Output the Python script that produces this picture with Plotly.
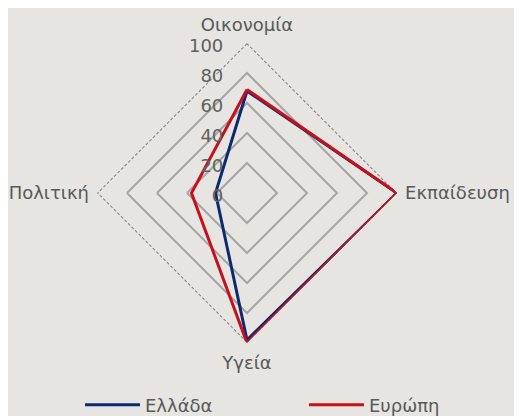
import plotly.graph_objects as go

# axes, clockwise from the top
categories = ['Οικονομία', 'Εκπαίδευση', 'Υγεία', 'Πολιτική']
greece = [68, 100, 98, 21]
europe = [69, 100, 100, 37]
outer = [100, 100, 100, 100]
tick_vals = [0, 20, 40, 60, 80, 100]

def closed(vals):
    return vals + vals[:1]

theta = closed(categories)

fig = go.Figure()

# dashed outer frame
fig.add_trace(go.Scatterpolar(
    r=closed(outer), theta=theta, mode='lines',
    line=dict(color='#7f7f7f', width=2, dash='3px,2px'),
    showlegend=False, hoverinfo='skip'
))

fig.add_trace(go.Scatterpolar(
    r=closed(greece), theta=theta, mode='lines', name='Ελλάδα',
    line=dict(color='#0d2a6e', width=3)
))

fig.add_trace(go.Scatterpolar(
    r=closed(europe), theta=theta, mode='lines', name='Ευρώπη',
    line=dict(color='#c8101a', width=3)
))

# the page body has an 8px margin, so positions are shifted by 8px
W, H = 522, 416
fig.update_layout(
    width=W, height=H,
    paper_bgcolor='#e6e5e1',
    plot_bgcolor='#e6e5e1',
    margin=dict(l=0, r=0, t=0, b=0, autoexpand=False),
    font=dict(family='DejaVu Sans', size=18, color='#595959'),
    polar=dict(
        bgcolor='#e6e5e1',
        gridshape='linear',
        domain=dict(x=[89 / W, 389 / W], y=[1 - 335 / H, 1 - 35 / H]),
        radialaxis=dict(
            range=[0, 100], tickvals=tick_vals, angle=90, side='counterclockwise',
            showline=False, gridcolor='#a6a6a6', gridwidth=1.5,
            ticks='outside', ticklen=7, tickcolor='rgba(0,0,0,0)',
            tickfont=dict(size=18, color='#606060'),
        ),
        angularaxis=dict(
            rotation=90, direction='clockwise',
            showline=False, showgrid=False,
            ticks='outside', ticklen=4, tickcolor='rgba(0,0,0,0)',
            tickfont=dict(size=18, color='#595959'),
        ),
    ),
    legend=dict(
        orientation='h', x=72 / W, xanchor='left', y=1 - 397 / H, yanchor='middle',
        entrywidth=154, entrywidthmode='pixels', itemwidth=55,
        font=dict(size=18, color='#595959'),
        bgcolor='rgba(0,0,0,0)',
    ),
)

fig.write_html('out.html')
